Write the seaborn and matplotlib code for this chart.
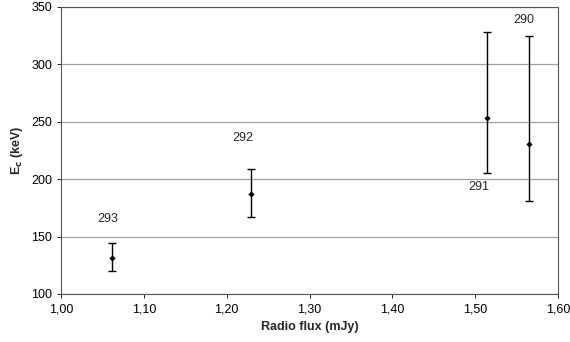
import matplotlib
matplotlib.use("Agg")
import matplotlib.pyplot as plt
import seaborn as sns
import pandas as pd
from matplotlib.ticker import FuncFormatter, MultipleLocator

# values
burst_ids = ["293", "292", "291", "290"]
radio_flux = [1.062, 1.229, 1.514, 1.565]
ec_kev = [131, 187, 253, 231]
err_low = [11, 20, 48, 50]
err_high = [13, 22, 75, 94]
label_x = [1.057, 1.220, 1.505, 1.559]
label_y = [165, 236, 193, 339]

df = pd.DataFrame({"flux": radio_flux, "ec": ec_kev, "id": burst_ids})

sns.set_style("white")
plt.rcParams["font.family"] = ["Liberation Sans", "DejaVu Sans"]

fig = plt.figure(figsize=(5.7, 3.42), dpi=100)
ax = fig.add_axes([61 / 570, 1 - 294 / 342, 497 / 570, 287 / 342])

ax.errorbar(df["flux"], df["ec"], yerr=[err_low, err_high], fmt="none",
            ecolor="black", elinewidth=1.0, capsize=3, capthick=1.0, zorder=3)
sns.scatterplot(data=df, x="flux", y="ec", ax=ax, color="black", s=10,
                marker="D", edgecolor="black", linewidth=0, zorder=4)

for lbl, lx, ly in zip(burst_ids, label_x, label_y):
    ax.text(lx, ly, lbl, ha="center", va="center", fontsize=9)

ax.set_xlim(1.0, 1.6)
ax.set_ylim(100, 350)
ax.xaxis.set_major_locator(MultipleLocator(0.1))
ax.yaxis.set_major_locator(MultipleLocator(50))
ax.xaxis.set_major_formatter(FuncFormatter(lambda v, p: f"{v:.2f}".replace(".", ",")))
ax.yaxis.grid(True, color="#a0a0a0", linewidth=0.9)
ax.set_axisbelow(True)
ax.tick_params(axis="both", direction="out", length=3, width=0.6,
               labelsize=9, colors="black", bottom=True, left=True)

for side, sp in ax.spines.items():
    sp.set_linestyle((0, (1, 1)))
    sp.set_linewidth(0.8)
    sp.set_color("#555555")

ax.set_xlabel("Radio flux (mJy)", fontsize=9, fontweight="bold")
ax.set_ylabel(r"E$_\mathbf{c}$ (keV)", fontsize=9, fontweight="bold")

fig.savefig("out.png", dpi=100)
